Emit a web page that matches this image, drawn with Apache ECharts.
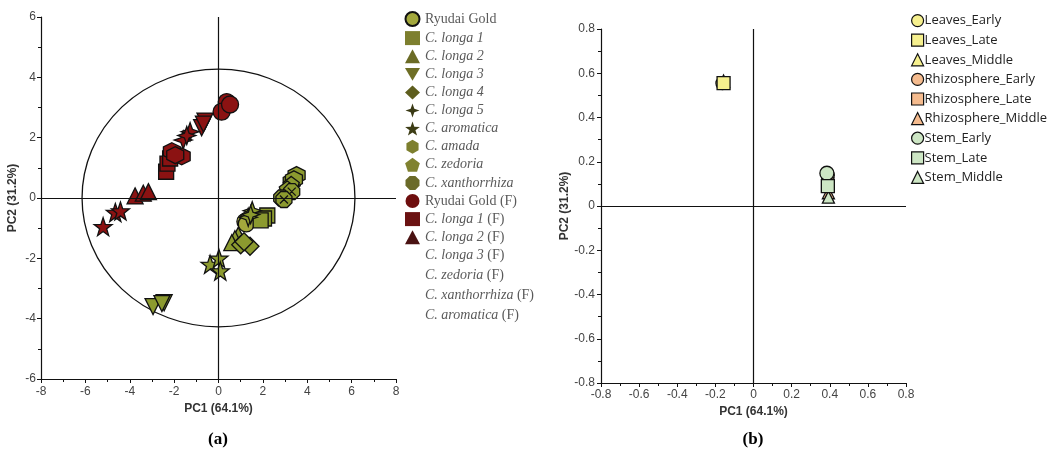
<!DOCTYPE html>
<html>
<head>
<meta charset="utf-8">
<script src="https://cdn.jsdelivr.net/npm/echarts@6/dist/echarts.min.js"></script>
<style>
html,body{margin:0;padding:0;background:#fff;}
#chart{width:1062px;height:459px;}
</style>
</head>
<body>
<div id="chart"></div>
<script>
// ---------------- DATA (panel a) ----------------
const namesA = ['Ryudai Gold','C. longa 1','C. longa 2','C. longa 3','C. longa 4','C. longa 5','C. aromatica','C. amada','C. zedoria','C. xanthorrhiza',
  'Ryudai Gold (F)','C. longa 1 (F)','C. longa 2 (F)','C. longa 3 (F)','C. zedoria (F)','C. xanthorrhiza (F)','C. aromatica (F)'];
const ryudaiGold   = [[1.19,-0.78],[1.32,-0.72],[1.25,-0.86]];
const longa1       = [[2.2,-0.58],[2.05,-0.68],[1.9,-0.74]];
const longa2       = [[0.89,-1.23],[0.74,-1.35],[0.6,-1.48]];
const longa3       = [[-2.95,-3.6],[-2.45,-3.47],[-2.55,-3.5]];
const longa4       = [[1.42,-1.6],[1.0,-1.55],[1.15,-1.45]];
const longa5       = [[1.52,-0.42],[1.34,-0.64],[1.45,-0.55]];
const aromatica    = [[-0.38,-2.2],[0.02,-2.0],[0.08,-2.42]];
const amada        = [[3.52,0.76],[3.3,0.54],[3.4,0.62]];
const zedoria      = [[3.28,0.45],[3.1,0.3]];
const xanthorrhiza = [[3.3,0.21],[2.85,0.0],[2.95,-0.05]];
const ryudaiGoldF  = [[0.37,3.18],[0.14,2.86],[0.52,3.1]];
const longa1F      = [[-2.36,0.87],[-2.3,1.14],[-2.18,1.31]];
const longa2F      = [[-3.76,0.07],[-3.39,0.16],[-3.16,0.21]];
const longa3F      = [[-0.61,2.55],[-0.76,2.33],[-0.68,2.45]];
const zedoriaF     = [[-1.59,1.92],[-1.28,2.2],[-1.43,2.07]];
const xanthorrhizaF= [[-2.1,1.55],[-1.66,1.38],[-1.95,1.42]];
const aromaticaF   = [[-5.2,-0.95],[-4.65,-0.48],[-4.42,-0.43]];
const circleRadiusX = 6.15;   // correlation circle, data units
const circleRadiusY = 4.27;

// ---------------- DATA (panel b) ----------------
const namesB = ['Leaves_Early','Leaves_Late','Leaves_Middle','Rhizosphere_Early','Rhizosphere_Late','Rhizosphere_Middle','Stem_Early','Stem_Late','Stem_Middle'];
const leavesEarly = [[-0.163,0.555]];
const leavesLate  = [[-0.157,0.555]];
const leavesMiddle= [[-0.157,0.565]];
const rhizoEarly  = [[0.39,0.14]];
const rhizoLate   = [[0.39,0.1]];
const rhizoMiddle = [[0.393,0.06]];
const stemEarly   = [[0.385,0.148]];
const stemLate    = [[0.39,0.09]];
const stemMiddle  = [[0.393,0.04]];

// ---------------- symbols ----------------
const STAR5 = 'path://M0,-10L2.35,-3.24L9.51,-3.09L3.8,1.24L5.88,8.09L0,4L-5.88,8.09L-3.8,1.24L-9.51,-3.09L-2.35,-3.24Z';
const STAR4 = 'path://M0,-10L2.6,-2.6L10,0L2.6,2.6L0,10L-2.6,2.6L-10,0L-2.6,-2.6Z';
const HEX = 'path://M0,-10L8.66,-5L8.66,5L0,10L-8.66,5L-8.66,-5Z';
const PENT = 'path://M0,-10L9.51,-3.09L5.88,8.09L-5.88,8.09L-9.51,-3.09Z';
const OCT_X = 'path://M-4,-10L4,-10L10,-4L10,4L4,10L-4,10L-10,4L-10,-4ZM-5,-5L5,5M5,-5L-5,5';
const OCT = 'path://M-4,-10L4,-10L10,-4L10,4L4,10L-4,10L-10,4L-10,-4Z';
const DTRI = 'path://M-10,-8L10,-8L0,9Z';

const GREEN = '#8c9a2f', RED = '#8b1212';
const SANS = '"Liberation Sans", Arial, sans-serif';

const chart = echarts.init(document.getElementById('chart'), null, {renderer:'canvas'});

function sc(name, data, symbol, size, color, gi){
  return {name, type:'scatter', xAxisIndex:gi, yAxisIndex:gi, data, symbol, symbolSize:size,
    itemStyle:{color, borderColor:'#111', borderWidth:1.3, opacity:1}, emphasis:{disabled:true}, z:3};
}

const seriesA = [
  sc(namesA[0], ryudaiGold, 'circle', 16, '#a3a83c', 0),
  sc(namesA[1], longa1, 'rect', 15, GREEN, 0),
  sc(namesA[2], longa2, 'triangle', 16, GREEN, 0),
  sc(namesA[3], longa3, DTRI, 16, GREEN, 0),
  sc(namesA[4], longa4, 'diamond', 18, GREEN, 0),
  sc(namesA[5], longa5, STAR4, 18, GREEN, 0),
  sc(namesA[6], aromatica, STAR5, 18, GREEN, 0),
  sc(namesA[7], amada, HEX, 17, GREEN, 0),
  sc(namesA[8], zedoria, PENT, 16, GREEN, 0),
  sc(namesA[9], xanthorrhiza, OCT_X, 16, GREEN, 0),
  sc(namesA[10], ryudaiGoldF, 'circle', 17, RED, 0),
  sc(namesA[11], longa1F, 'rect', 15, RED, 0),
  sc(namesA[12], longa2F, 'triangle', 16, RED, 0),
  sc(namesA[13], longa3F, DTRI, 16, RED, 0),
  sc(namesA[14], zedoriaF, STAR4, 18, RED, 0),
  sc(namesA[15], xanthorrhizaF, HEX, 17, RED, 0),
  sc(namesA[16], aromaticaF, STAR5, 18, RED, 0)
];
seriesA[0].markLine = {silent:true, symbol:'none', label:{show:false}, animation:false,
  lineStyle:{color:'#111', type:'solid', width:1.2}, data:[{xAxis:0},{yAxis:0}]};

const YEL='#f6f08e', ORA='#f5bb8e', GRN='#cde6c4';
const seriesB = [
  sc(namesB[0], leavesEarly, 'circle', 13, YEL, 1),
  Object.assign(sc(namesB[1], leavesLate, 'rect', 13, YEL, 1), {z:5}),
  sc(namesB[2], leavesMiddle, 'triangle', 12, YEL, 1),
  sc(namesB[3], rhizoEarly, 'circle', 13, ORA, 1),
  sc(namesB[4], rhizoLate, 'rect', 12, ORA, 1),
  sc(namesB[5], rhizoMiddle, 'triangle', 12, ORA, 1),
  Object.assign(sc(namesB[6], stemEarly, 'circle', 14, GRN, 1), {z:6}),
  Object.assign(sc(namesB[7], stemLate, 'rect', 13, GRN, 1), {z:7}),
  Object.assign(sc(namesB[8], stemMiddle, 'triangle', 12, GRN, 1), {z:6})
];
seriesB[0].markLine = {silent:true, symbol:'none', label:{show:false}, animation:false,
  lineStyle:{color:'#111', type:'solid', width:1.2}, data:[{xAxis:0},{yAxis:0}]};

function axis(gi, min, max, interval, name, nameGap, labelMargin){
  return {gridIndex:gi, type:'value', min, max, interval,
    name, nameLocation:'middle', nameGap,
    nameTextStyle:{fontFamily:SANS, fontSize:12, fontWeight:'bold', color:'#333'},
    axisLine:{show:true, onZero:false, lineStyle:{color:'#111', width:1.2}},
    axisTick:{show:true, length:4, lineStyle:{color:'#111'}},
    minorTick:{show:true, splitNumber:2, length:3, lineStyle:{color:'#111'}},
    splitLine:{show:false},
    axisLabel:{fontFamily:SANS, fontSize:12, color:'#444', margin:labelMargin,
      formatter: v => (Math.abs(v) < 1e-9 ? '0' : (gi===1 ? String(Math.round(v*10)/10) : String(v)))}
  };
}

// legend data A
const legendColorsA = ['#a3a83c','#7d7f2e','#6b6b25','#6e6e25','#5e5e1e','#3a3a15','#3d3d15','#7d7f2e','#808230','#6a6a28',
  '#6e0e0e','#6b1212','#4a1212', null, null, null, null];
const legendIconsA = [null,null,null,null,null,null,null,null,null, OCT, null,null,null,null,null,null,null];
const legendDataA = namesA.map((n,i) => {
  const d = {name:n};
  if (legendColorsA[i]) d.itemStyle = {color:legendColorsA[i], borderWidth: i===0 ? 2 : 0, borderColor:'#111'};
  else d.itemStyle = {opacity:0};
  if (legendIconsA[i]) d.icon = legendIconsA[i];
  return d;
});

const SERIF = '"Liberation Serif", "Times New Roman", serif';
const option = {
  animation:false,
  backgroundColor:'#fff',
  grid:[
    {left:41, top:17, width:355, height:362},
    {left:601, top:29, width:305, height:354}
  ],
  xAxis:[ axis(0,-8,8,2,'PC1 (64.1%)',20,7), axis(1,-0.8,0.8,0.2,'PC1 (64.1%)',20,6) ],
  yAxis:[ axis(0,-6,6,2,'PC2 (31.2%)',22,5), axis(1,-0.8,0.8,0.2,'PC2 (31.2%)',24,6) ],
  legend:[
    {orient:'vertical', left:404, top:11, padding:0, itemWidth:15, itemHeight:14, itemGap:4.1, selectedMode:false,
     data:legendDataA,
     formatter: n => {
       if (n.startsWith('C.')) {
         const f = n.endsWith(' (F)');
         const base = f ? n.slice(0,-4) : n;
         return '{i|' + base + '}' + (f ? '{n| (F)}' : '');
       }
       return '{n|' + n + '}';
     },
     textStyle:{fontFamily:SERIF, fontSize:14, color:'#5a5a5a', lineHeight:14,
       rich:{ i:{fontFamily:SERIF, fontSize:14, fontStyle:'italic', color:'#5a5a5a'},
              n:{fontFamily:SERIF, fontSize:14, fontStyle:'normal', color:'#5a5a5a'} }}
    },
    {orient:'vertical', left:911, top:14, padding:0, itemWidth:12, itemHeight:12, itemGap:6.4, selectedMode:false,
     data:namesB.map(n=>({name:n, itemStyle:{borderColor:'#111', borderWidth:1.2}})),
     textStyle:{fontFamily:'"Open Sans", sans-serif', fontSize:13, color:'#222', padding:[0,0,0,-4]}
    }
  ],
  series: seriesA.concat(seriesB)
};
chart.setOption(option);

// correlation circle + captions
const c0 = chart.convertToPixel({xAxisIndex:0, yAxisIndex:0}, [0,0]);
const c1 = chart.convertToPixel({xAxisIndex:0, yAxisIndex:0}, [circleRadiusX, circleRadiusY]);
const rx = c1[0]-c0[0], ry = c0[1]-c1[1];
chart.setOption({
  graphic:{elements:[
    {type:'circle', x:c0[0], y:c0[1], scaleY: ry/rx, shape:{cx:0, cy:0, r:rx}, silent:true, z:1,
     style:{fill:'none', stroke:'#111', lineWidth:1.3, strokeNoScale:true}},
    {type:'text', x:218, y:440, silent:true,
     style:{text:'(a)', fill:'#000', font:'bold 17px "Liberation Serif"', align:'center', verticalAlign:'middle'}},
    {type:'text', x:753, y:440, silent:true,
     style:{text:'(b)', fill:'#000', font:'bold 17px "Liberation Serif"', align:'center', verticalAlign:'middle'}}
  ]}
});
</script>
</body>
</html>
